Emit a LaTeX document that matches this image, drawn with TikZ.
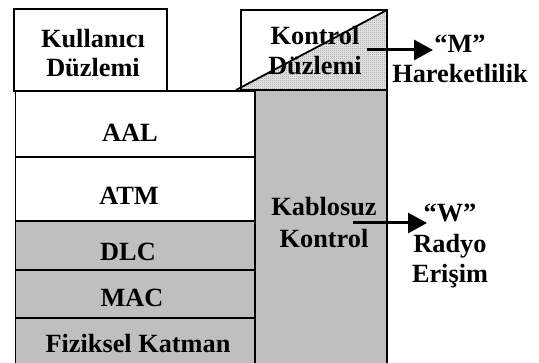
\documentclass[tikz,border=0pt]{standalone}
\usepackage{fontspec}
\setmainfont{Liberation Serif}
\usetikzlibrary{arrows.meta,patterns.meta}

% fine stipple used for the shaded half of the control-plane box
\tikzdeclarepattern{
  name=stipple,
  type=uncolored,
  bottom left={(0pt,0pt)},
  top right={(2pt,2pt)},
  tile size={(2pt,2pt)},
  code={\fill (0pt,0pt) rectangle (1pt,1pt);}
}

\tikzset{
  frame/.style={draw=black, line width=1.8pt},
  layerwhite/.style={frame, fill=white},
  layergray/.style={frame, fill=black!25},
  txt/.style={inner sep=0pt, anchor=base, font=\bfseries\fontsize{26.3}{30}\selectfont},
  arr/.style={line width=3pt, -{Triangle[length=19pt,width=20pt]}}
}

\begin{document}
\begin{tikzpicture}[x=1pt,y=-1pt]
  \useasboundingbox (0,0) rectangle (539,363);
  \fill[white] (0,0) rectangle (539,363);

  % protocol layers of the user plane
  \draw[layerwhite] (15.5,91)  rectangle (255,157);
  \draw[layerwhite] (15.5,157) rectangle (255,221);
  \draw[layergray]  (15.5,221) rectangle (255,270);
  \draw[layergray]  (15.5,270) rectangle (255,318);
  \draw[layergray]  (15.5,318) rectangle (255,380);

  \node[txt] (aal) at (130,142) {AAL};
  \node[txt] (atm) at (129,205) {ATM};
  \node[txt] (dlc) at (128,261) {DLC};
  \node[txt] (mac) at (132,307) {MAC};
  \node[txt] (fiz) at (138,353) {Fiziksel Katman};

  % wireless control column
  \draw[layergray] (255,90) rectangle (387,380);
  \node[txt] (kab1) at (324,216) {Kablosuz};
  \node[txt] (kab2) at (324,248) {Kontrol};

  % user plane header
  \draw[layerwhite] (14,9) rectangle (167,91);
  \node[txt] (kul1) at (93,48) {Kullanıcı};
  \node[txt] (kul2) at (93,77) {Düzlemi};

  % control plane header, split diagonally
  \fill[white] (241,10) rectangle (387,90);
  \fill[black!12] (236,90) -- (387,10) -- (387,90) -- cycle;
  \fill[pattern=stipple, pattern color=black!55] (236,90) -- (387,10) -- (387,90) -- cycle;
  \node[txt] (kon1) at (315,45) {Kontrol};
  \node[txt] (kon2) at (315,75) {Düzlemi};
  \draw[frame] (241,10) rectangle (387,90);
  \draw[frame] (236,90) -- (387,10);

  % mobility
  \node[txt] (mq)  at (460,53) {“M”};
  \node[txt] (har) at (460,83) {Hareketlilik};
  \coordinate (ms) at (367,50);
  \coordinate (me) at (433,50);
  \draw[arr] (ms) -- (me);

  % radio access
  \node[txt] (wq)  at (450,222) {“W”};
  \node[txt] (rad) at (450,253) {Radyo};
  \node[txt] (eri) at (450,283) {Erişim};
  \coordinate (ws) at (353,223);
  \coordinate (we) at (427,223);
  \draw[arr] (ws) -- (we);
\end{tikzpicture}
\end{document}
